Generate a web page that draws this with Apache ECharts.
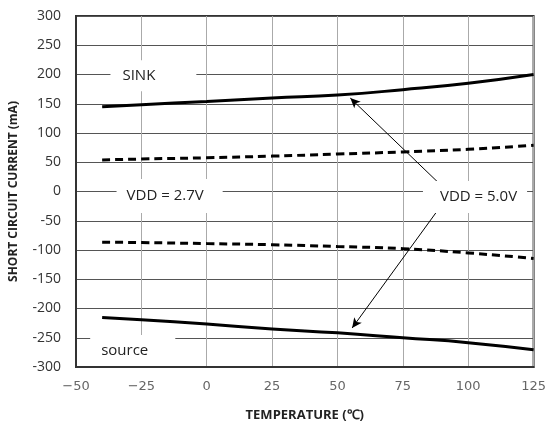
<!DOCTYPE html>
<html>
<head>
<meta charset="utf-8">
<script src="https://cdn.jsdelivr.net/npm/echarts@6/dist/echarts.min.js"></script>
<style>
html,body{margin:0;padding:0;background:#fff;}
#chart{width:549px;height:427px;}
</style>
</head>
<body>
<div id="chart"></div>
<script>
// Data
var temperatures = [-40, -25, 0, 25, 50, 75, 100, 125];
var sink50 = [145, 148.5, 154, 160, 165, 174, 185, 200];
var sink27 = [54, 55.5, 57.7, 60.5, 64, 67.7, 72.2, 79];
var source27 = [-86.6, -87.3, -89, -91, -94, -97.8, -105, -114.5];
var source50 = [-215.4, -219.4, -226.6, -235, -241.6, -250, -258.4, -270.6];
var yTicks = [-300, -250, -200, -150, -100, -50, 0, 50, 100, 150, 200, 250, 300];
var xTicks = [-50, -25, 0, 25, 50, 75, 100, 125];

function pairs(xs, ys) { return xs.map(function (x, i) { return [x, ys[i]]; }); }

var labelFont = { fontFamily: 'Open Sans', fontSize: 15, color: '#222' };

var chart = echarts.init(document.getElementById('chart'), null, { renderer: 'canvas' });
chart.setOption({
  animation: false,
  backgroundColor: '#fff',
  grid: { left: 72, right: 13, top: 16, bottom: 52, show: true, borderColor: '#333', borderWidth: 2 },
  xAxis: {
    type: 'value', min: xTicks[0], max: xTicks[xTicks.length - 1], interval: 25,
    name: 'TEMPERATURE (\u2103)', nameLocation: 'middle', nameGap: 42,
    nameTextStyle: { fontFamily: 'Open Sans', fontWeight: 'bold', fontSize: 13, color: '#222' },
    axisLine: { show: true, onZero: false, lineStyle: { color: '#333', width: 2 } },
    axisTick: { show: false },
    axisLabel: { fontFamily: 'DejaVu Sans', fontSize: 13, color: '#666', margin: 13,
      formatter: function (v) { return String(v).replace('-', '\u2212'); } },
    splitLine: { show: true, lineStyle: { color: '#aaa', width: 1 } }
  },
  yAxis: {
    type: 'value', min: yTicks[0], max: yTicks[yTicks.length - 1], interval: 50,
    name: 'SHORT CIRCUIT CURRENT (mA)', nameLocation: 'middle', nameGap: 56,
    nameTextStyle: { fontFamily: 'Open Sans', fontWeight: 'bold', fontSize: 12, color: '#222' },
    axisLine: { show: true, onZero: false, lineStyle: { color: '#333', width: 2 } },
    axisTick: { show: false },
    axisLabel: { fontFamily: 'Open Sans', fontSize: 14, color: '#333', margin: 15 },
    splitLine: { show: true, lineStyle: { color: '#555', width: 1 } }
  },
  series: [
    { type: 'line', data: pairs(temperatures, sink50), smooth: true, symbol: 'none',
      lineStyle: { color: '#000', width: 3 }, z: 3 },
    { type: 'line', data: pairs(temperatures, sink27), smooth: true, symbol: 'none',
      lineStyle: { color: '#000', width: 3, type: [8, 5] }, z: 3 },
    { type: 'line', data: pairs(temperatures, source27), smooth: true, symbol: 'none',
      lineStyle: { color: '#000', width: 3, type: [8, 5] }, z: 3 },
    { type: 'line', data: pairs(temperatures, source50), smooth: true, symbol: 'none',
      lineStyle: { color: '#000', width: 3 }, z: 3 },
    { type: 'line', data: [], z: 2,
      markPoint: {
        symbol: 'rect', symbolSize: 0, silent: true,
        label: Object.assign({ show: true, position: 'inside', backgroundColor: '#fff', lineHeight: 16 }, labelFont),
        data: [
          { coord: [-20.4, 198], value: 'SINK', label: { formatter: 'SINK', padding: [7, 41, 8, 12] } },
          { coord: [-14.2, -7.5], value: 'VDD = 2.7V', label: { formatter: 'VDD = 2.7V', padding: [9, 19, 9, 10] } },
          { coord: [102.6, -9.2], value: 'VDD = 5.0V', label: { formatter: 'VDD = 5.0V', padding: [8, 10, 8, 17] } },
          { coord: [-28.3, -272], value: 'source', label: { formatter: 'source', padding: [8, 27, 7, 11] } }
        ]
      }
    },
    { type: 'line', data: [], z: 4,
      markLine: {
        silent: true, symbol: ['none', 'arrow'], symbolSize: [7, 10],
        label: { show: false },
        lineStyle: { color: '#000', width: 1, type: 'solid' },
        data: [
          [{ coord: [88.8, 14.2] }, { coord: [54.9, 159.7] }],
          [{ coord: [88.8, -29.3] }, { coord: [55.6, -233.3] }]
        ]
      }
    }
  ]
});
</script>
</body>
</html>
